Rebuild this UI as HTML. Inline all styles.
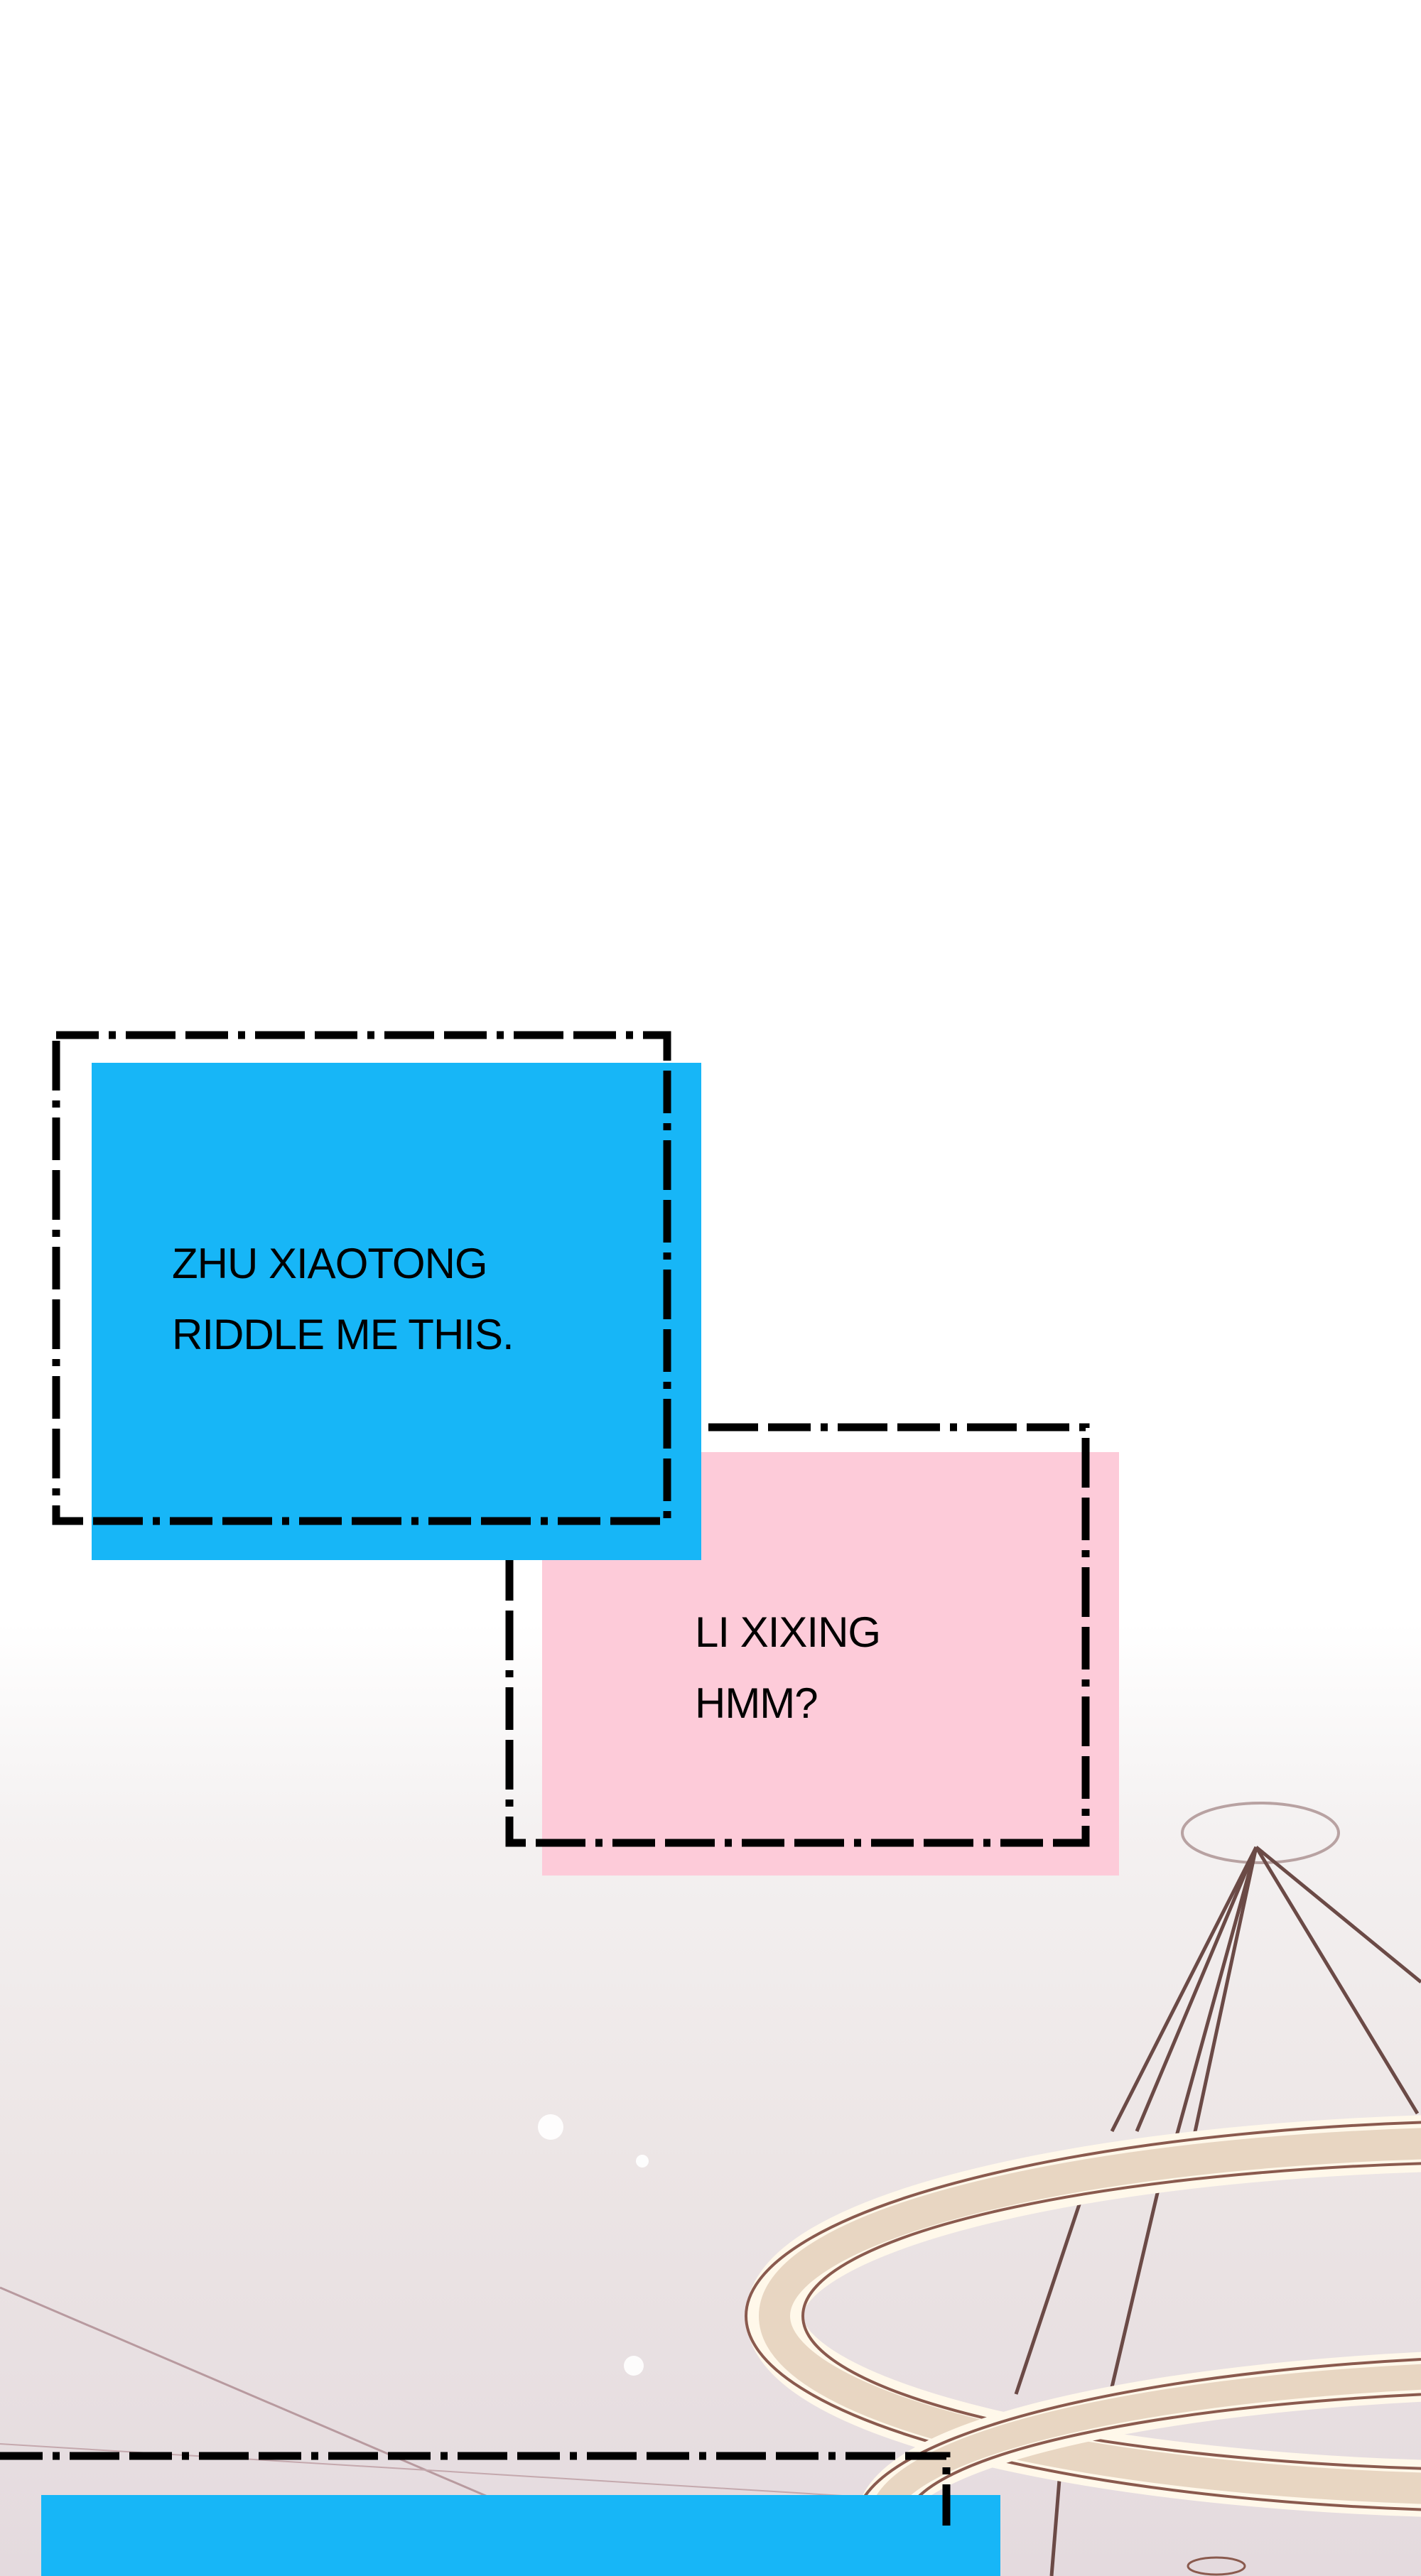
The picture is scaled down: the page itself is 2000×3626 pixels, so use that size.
<!DOCTYPE html>
<html><head><meta charset="utf-8"><style>
html,body{margin:0;padding:0}
body{width:2000px;height:3626px;overflow:hidden;position:relative;background:#fff;font-family:"Liberation Sans",sans-serif}
.t{position:absolute;font-size:60px;color:#000;line-height:100px;letter-spacing:-1px}
</style></head><body>
<svg width="2000" height="3626" style="position:absolute;left:0;top:0">
<defs>
<linearGradient id="bg" x1="0" y1="0" x2="0" y2="1">
<stop offset="0" stop-color="#fff"/>
<stop offset="0.63" stop-color="#fff"/>
<stop offset="0.71" stop-color="#f4f1f1"/>
<stop offset="0.84" stop-color="#ece5e5"/>
<stop offset="1" stop-color="#e4dade"/>
</linearGradient>
</defs>
<rect width="2000" height="3626" fill="url(#bg)"/>
<line x1="0" y1="3220" x2="700" y2="3520" stroke="#b89a9f" stroke-width="3"/>
<line x1="0" y1="3440" x2="1300" y2="3520" stroke="#c4a8ad" stroke-width="2"/>
<circle cx="775" cy="2994" r="18" fill="#fff" opacity=".9"/>
<circle cx="904" cy="3042" r="9" fill="#fff" opacity=".9"/>
<circle cx="892" cy="3330" r="14" fill="#fff" opacity=".9"/>
<g fill="none" stroke="#6b4a46" stroke-width="5">
<ellipse cx="1774" cy="2580" rx="110" ry="42" stroke="#b8a2a2" stroke-width="4"/>
<line x1="1768" y1="2600" x2="1565" y2="3000"/>
<line x1="1768" y1="2600" x2="1600" y2="3000"/>
<line x1="1768" y1="2600" x2="1655" y2="3010"/>
<line x1="1768" y1="2600" x2="1680" y2="3010"/>
<line x1="1768" y1="2600" x2="1995" y2="2975"/>
<line x1="1768" y1="2600" x2="2000" y2="2790"/>
<line x1="1540" y1="3040" x2="1430" y2="3370"/>
<line x1="1640" y1="3040" x2="1565" y2="3360"/>
<line x1="1500" y1="3380" x2="1480" y2="3626"/>
</g>
<g stroke="#8a5a4e" stroke-width="4">
<ellipse cx="2150" cy="3260" rx="1060" ry="245" fill="none" stroke="#fff8ea" stroke-width="80"/>
<ellipse cx="2150" cy="3260" rx="1060" ry="245" fill="none" stroke="#e8d6c2" stroke-width="44"/>
<ellipse cx="2150" cy="3260" rx="1100" ry="275" fill="none"/>
<ellipse cx="2150" cy="3260" rx="1020" ry="217" fill="none"/>
<ellipse cx="2230" cy="3550" rx="990" ry="210" fill="none" stroke="#fff8ea" stroke-width="70"/>
<ellipse cx="2230" cy="3550" rx="990" ry="210" fill="none" stroke="#e8d6c2" stroke-width="36"/>
<ellipse cx="2230" cy="3550" rx="1025" ry="235" fill="none"/>
<ellipse cx="2230" cy="3550" rx="955" ry="185" fill="none"/>
<ellipse cx="1712" cy="3612" rx="40" ry="12" fill="none" stroke-width="3"/>
</g>
<g fill="none" stroke="#000" stroke-width="11" stroke-dasharray="60 14 10 14 70 14">
<rect x="763" y="2044" width="812" height="596" fill="#fdcbd9" stroke="none"/>
<rect x="717" y="2009" width="811" height="585"/>
<rect x="129" y="1496" width="858" height="700" fill="#17b6f7" stroke="none"/>
<rect x="79" y="1457" width="860" height="684"/>
<rect x="58" y="3512" width="1350" height="114" fill="#17b6f7" stroke="none"/>
<polyline points="0,3457 1332,3457 1332,3555"/>
</g>
</svg>
<div class="t" style="left:242px;top:1729px">ZHU XIAOTONG<br>RIDDLE ME THIS.</div>
<div class="t" style="left:978px;top:2248px">LI XIXING<br>HMM?</div>
</body></html>
